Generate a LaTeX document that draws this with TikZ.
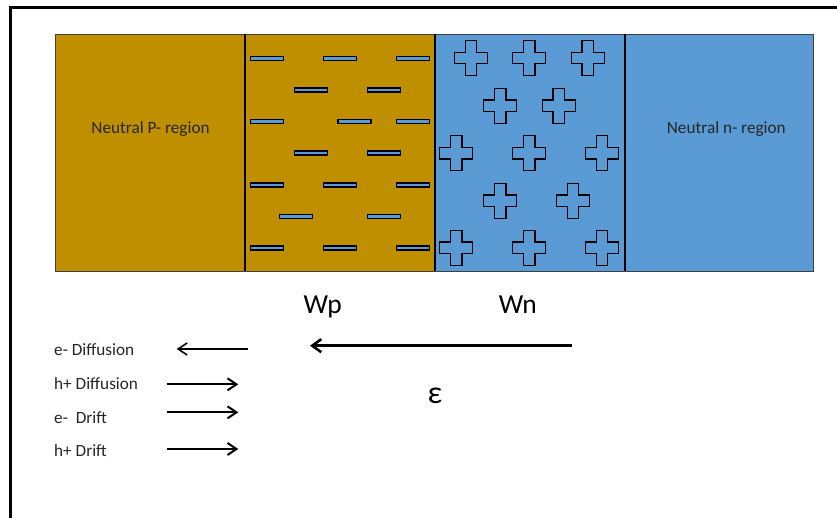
\documentclass[tikz,border=0pt]{standalone}
\usepackage{fontspec}
\setmainfont{Carlito}
\usetikzlibrary{arrows.meta}
\definecolor{pgold}{RGB}{191,143,0}
\definecolor{nblue}{RGB}{91,155,213}
\tikzset{
  minusbar/.style={draw=black, fill=nblue, line width=1.1pt},
  holecross/.pic={
    \draw[line width=1.3pt, line join=miter]
      (-5.75,-17.5) -- (5.75,-17.5) -- (5.75,-5.8) -- (16.5,-5.8) -- (16.5,5.8)
      -- (5.75,5.8) -- (5.75,17.5) -- (-5.75,17.5) -- (-5.75,5.8) -- (-16.5,5.8)
      -- (-16.5,-5.8) -- (-5.75,-5.8) -- cycle;
  },
  smalltext/.style={font=\fontsize{17.2}{19}\selectfont, inner sep=0pt, text=black!85},
  bigtext/.style={font=\fontsize{27.5}{30}\selectfont, inner sep=0pt},
  fieldarrow/.style={line width=2.6pt, -{Straight Barb[length=9pt,width=13pt]}},
  legendarrow/.style={line width=2pt, -{Straight Barb[length=9pt,width=12pt]}},
}
\begin{document}
\begin{tikzpicture}[x=1pt, y=-1pt]
\useasboundingbox (0,0) rectangle (837,518);

% page frame (top and left edges)
\draw[line width=3pt] (10.5,518) -- (10.5,7.5) -- (837,7.5);

% the four regions of the junction
\fill[pgold] (55.5,34.5) rectangle (434.5,271.5);
\fill[nblue] (434.5,34.5) rectangle (813.5,271.5);
\draw[black!75, line width=1.5pt] (55.5,34.5) rectangle (813.5,271.5);
\foreach \xd in {245,434.5,624.5}
  \draw[line width=2pt] (\xd,34.5) -- (\xd,271.5);

% ionised acceptors (negative charge)
\foreach \xb/\yb in {250.7/58.3, 323.3/58.3, 396.3/58.3,
                     294.3/90, 367.3/90,
                     250.7/121.3, 338/121.3, 396.3/121.3,
                     294.3/153, 367.3/153,
                     250.7/185, 323.3/185, 396.3/185,
                     279.7/216.3, 367.3/216.3,
                     250.7/248, 323.3/248, 396.3/248}
  \draw[minusbar] (\xb,\yb-2) rectangle ++(33,4);

% ionised donors (positive charge)
\foreach \xc/\yc in {471/58, 529.3/58, 587.7/58,
                     500.3/105.8, 558.7/105.8,
                     456.3/153.2, 529.3/153.2, 602/153.2,
                     500.3/200.7, 573/200.7,
                     456.3/247.8, 529.3/247.8, 602/247.8}
  \pic at (\xc,\yc) {holecross};

% region labels
\node[smalltext, anchor=base] (pneutral) at (150.5,134) {Neutral P- region};
\node[smalltext, anchor=base] (nneutral) at (726.3,134) {Neutral n- region};
\node[bigtext, anchor=base] (wp) at (322.7,313.3) {Wp};
\node[bigtext, anchor=base] (wn) at (517.8,313.3) {Wn};

% built-in field
\coordinate (fieldstart) at (571.7,345.7);
\coordinate (fieldend) at (310,345.7);
\draw[fieldarrow] (fieldstart) -- (fieldend);
\node[font=\fontsize{32}{34}\selectfont, inner sep=0pt] (eps) at (435,396) {ε};

% legend of carrier flows
\node[smalltext, anchor=base west] (ediff) at (54,355) {e- Diffusion};
\node[smalltext, anchor=base west] (hdiff) at (54,389.3) {h+ Diffusion};
\node[smalltext, anchor=base west] (edrift) at (54,423.3) {e-\ \ Drift};
\node[smalltext, anchor=base west] (hdrift) at (54,456.7) {h+ Drift};

\coordinate (a1s) at (248.3,349);   \coordinate (a1e) at (176.7,349);
\coordinate (a2s) at (166.7,384.3); \coordinate (a2e) at (238.3,384.3);
\coordinate (a3s) at (166.7,412.3); \coordinate (a3e) at (238.3,412.3);
\coordinate (a4s) at (166.7,449);   \coordinate (a4e) at (238.3,449);
\draw[legendarrow, line width=1.6pt] (a1s) -- (a1e);
\draw[legendarrow] (a2s) -- (a2e);
\draw[legendarrow] (a3s) -- (a3e);
\draw[legendarrow] (a4s) -- (a4e);
\end{tikzpicture}
\end{document}
